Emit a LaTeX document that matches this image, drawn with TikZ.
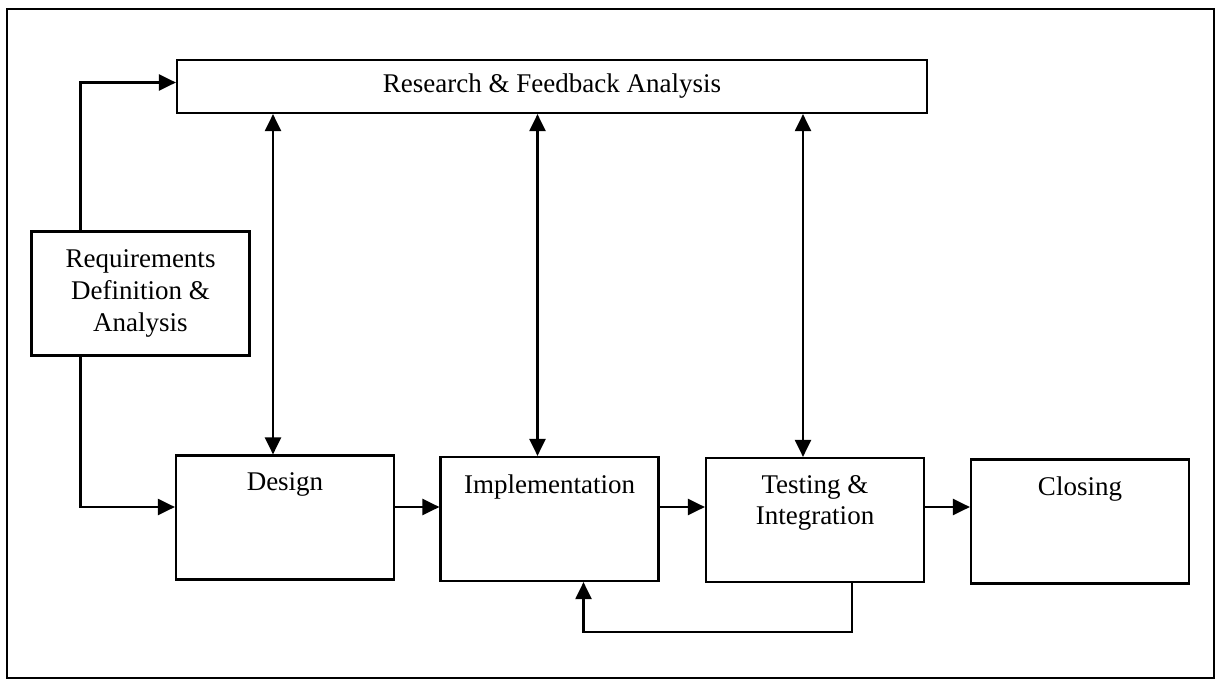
\documentclass[tikz,border=0pt]{standalone}
\usepackage{fontspec}
\setmainfont{Liberation Serif}
\usetikzlibrary{arrows.meta,positioning}

\begin{document}
\begin{tikzpicture}[x=0.5pt,y=-0.5pt,
    stage/.style={draw,line width=1.1pt,minimum width=109pt,minimum height=62pt,inner sep=0pt},
    caption/.style={inner sep=0pt,align=center,font=\fontsize{13.5}{15.8}\selectfont},
    link/.style={line width=1.1pt,-{Triangle[length=8.5pt,width=8pt]}},
    both/.style={line width=1.1pt,{Triangle[length=8.5pt,width=8pt]}-{Triangle[length=8.5pt,width=8pt]}}]

    \useasboundingbox (0,0) rectangle (1222,680);

    % Outer frame
    \draw[line width=1.1pt] (7,9) rectangle (1214,678);

    % Research box across the top
    \node[draw,line width=1.1pt,minimum width=375pt,minimum height=26.5pt,caption] (research) at (552,86.5) {Research \& Feedback Analysis};

    % Requirements on the left
    \node[stage,caption] (req) at (140.5,293.5) {Requirements\\Definition \&\\Analysis};

    % Stages along the bottom
    \node[stage] (design) at (285,517.5) {};
    \node[stage] (impl) at (549.5,519) {};
    \node[stage] (test) at (815,520) {};
    \node[stage] (closing) at (1080,521.5) {};

    % Stage titles near the top of each box
    \node[caption,below=9pt of design.north] (designtxt) {Design};
    \node[caption,below=9pt of impl.north] (impltxt) {Implementation};
    \node[caption,below=9pt of test.north] (testtxt) {Testing \&\\Integration};
    \node[caption,below=9pt of closing.north] (closingtxt) {Closing};

    % Requirements feeds research and design
    \coordinate (flow) at (0,507);
    \draw[link] ([xshift=-30pt]req.north) |- ([yshift=2pt]research.west);
    \draw[link] ([xshift=-30pt]req.south) |- (design.west |- flow);

    % Main flow
    \draw[link] (design.east |- flow) -- (impl.west |- flow);
    \draw[link] (impl.east |- flow) -- (test.west |- flow);
    \draw[link] (test.east |- flow) -- (closing.west |- flow);

    % Two-way links to research
    \foreach \s in {design,impl,test}
        \draw[both] ([xshift=-6pt]\s.north) coordinate (p) -- (p |- research.south);

    % Testing loops back to implementation
    \draw[link] ([xshift=18.5pt]test.south) -- ++(0,49) -| ([xshift=17pt]impl.south);

\end{tikzpicture}
\end{document}
